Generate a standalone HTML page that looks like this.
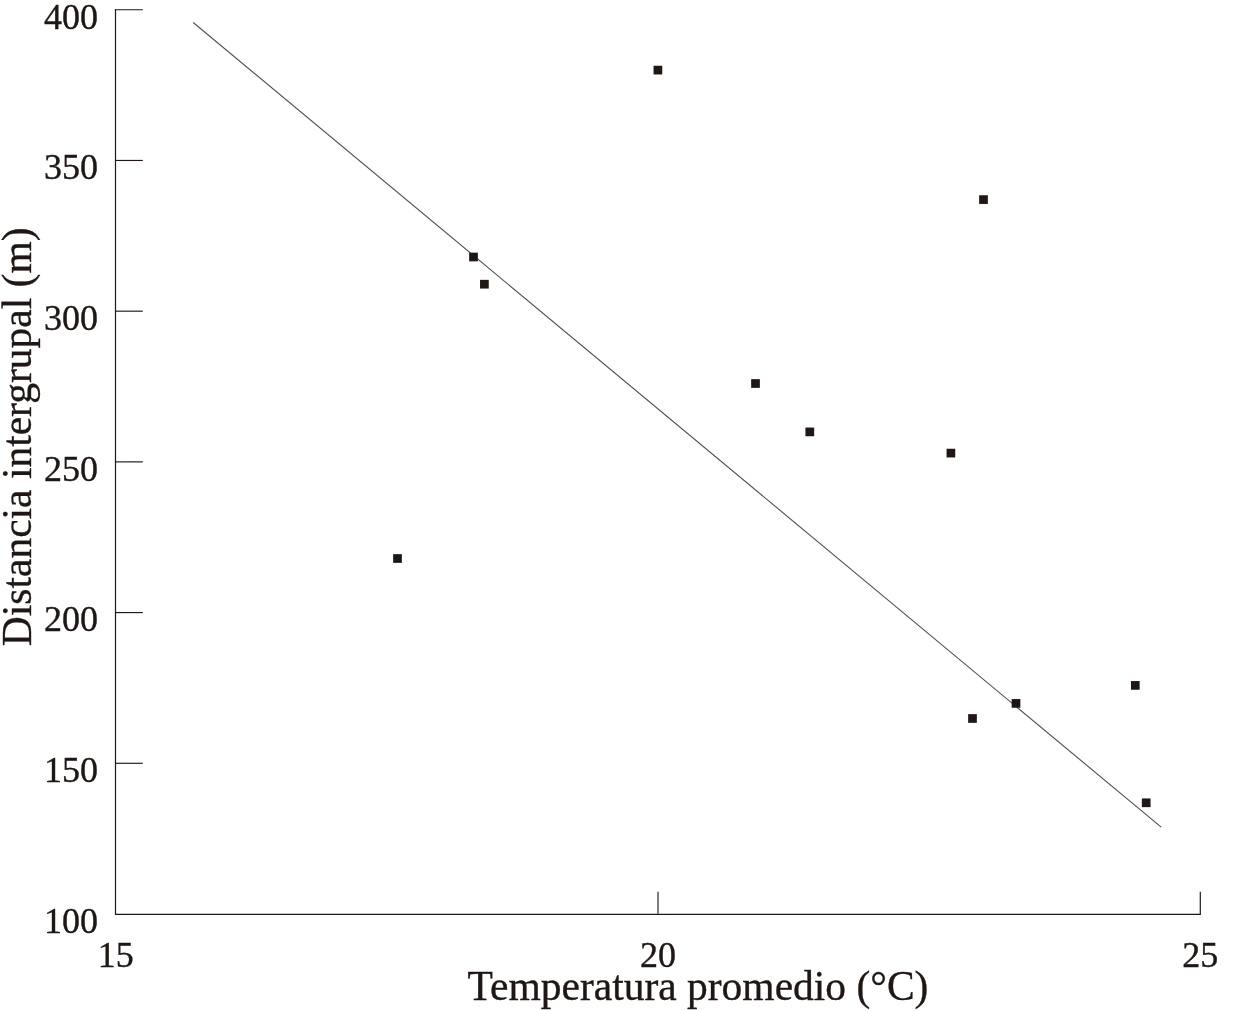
<!DOCTYPE html>
<html><head><meta charset="utf-8"><style>
html,body{margin:0;padding:0;background:#fff;}
body{width:1247px;height:1011px;overflow:hidden;}
svg{display:block;will-change:transform;}
text{font-family:"Liberation Serif",serif;fill:#1e1714;stroke:#1e1714;stroke-width:0.35px;}
.n{font-size:36px;}
.t{font-size:41.5px;}
.t2{font-size:41.5px;}
</style></head><body>
<svg width="1247" height="1011" viewBox="0 0 1247 1011">
<path d="M115.5 9.75 H142.8 M115.5 9.1 V914.45 H1200.3 V891.8" fill="none" stroke="#1e1714" stroke-width="1.2"/>
<line x1="115.5" y1="160.46" x2="142.8" y2="160.46" stroke="#1e1714" stroke-width="1.15"/>
<line x1="115.5" y1="311.17" x2="142.8" y2="311.17" stroke="#1e1714" stroke-width="1.15"/>
<line x1="115.5" y1="461.88" x2="142.8" y2="461.88" stroke="#1e1714" stroke-width="1.15"/>
<line x1="115.5" y1="612.58" x2="142.8" y2="612.58" stroke="#1e1714" stroke-width="1.15"/>
<line x1="115.5" y1="763.29" x2="142.8" y2="763.29" stroke="#1e1714" stroke-width="1.15"/>
<line x1="658" y1="891.8" x2="658" y2="914" stroke="#555457" stroke-width="1.5"/>
<line x1="193.2" y1="22.5" x2="1161.2" y2="827.2" stroke="#4f4d53" stroke-width="1.1"/>
<rect x="653.55" y="65.75" width="8.7" height="8.7" fill="#1e1714"/>
<rect x="979.15" y="195.25" width="8.7" height="8.7" fill="#1e1714"/>
<rect x="469.15" y="252.65" width="8.7" height="8.7" fill="#1e1714"/>
<rect x="480.05" y="279.85" width="8.7" height="8.7" fill="#1e1714"/>
<rect x="751.15" y="379.15" width="8.7" height="8.7" fill="#1e1714"/>
<rect x="805.45" y="427.55" width="8.7" height="8.7" fill="#1e1714"/>
<rect x="946.55" y="448.75" width="8.7" height="8.7" fill="#1e1714"/>
<rect x="393.15" y="554.15" width="8.7" height="8.7" fill="#1e1714"/>
<rect x="968.15" y="714.15" width="8.7" height="8.7" fill="#1e1714"/>
<rect x="1011.65" y="699.05" width="8.7" height="8.7" fill="#1e1714"/>
<rect x="1130.95" y="681.05" width="8.7" height="8.7" fill="#1e1714"/>
<rect x="1141.85" y="798.45" width="8.7" height="8.7" fill="#1e1714"/>
<text x="98.0" y="28.65" text-anchor="end" class="n">400</text>
<text x="98.0" y="179.36" text-anchor="end" class="n">350</text>
<text x="98.0" y="330.07" text-anchor="end" class="n">300</text>
<text x="98.0" y="480.77" text-anchor="end" class="n">250</text>
<text x="98.0" y="631.48" text-anchor="end" class="n">200</text>
<text x="98.0" y="782.19" text-anchor="end" class="n">150</text>
<text x="98.0" y="932.90" text-anchor="end" class="n">100</text>
<text x="115.70" y="966.5" text-anchor="middle" class="n">15</text>
<text x="657.95" y="966.5" text-anchor="middle" class="n">20</text>
<text x="1200.20" y="966.5" text-anchor="middle" class="n">25</text>
<text x="467.6" y="1000.1" class="t">Temperatura promedio (°C)</text>
<text transform="translate(30.6 646.2) rotate(-90)" x="0" y="0" class="t2">Distancia intergrupal (m)</text>
</svg>
</body></html>
